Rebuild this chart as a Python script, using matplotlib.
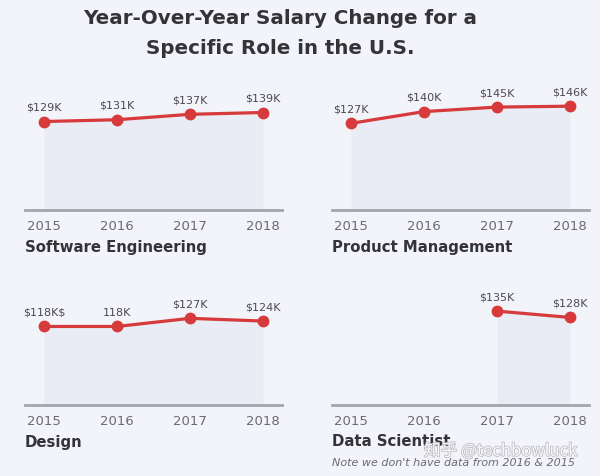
import matplotlib.pyplot as plt
import matplotlib.patheffects as pe

years = [2015, 2016, 2017, 2018]

roles = ["Software Engineering", "Product Management", "Design", "Data Scientist"]
salaries = [
    [129, 131, 137, 139],
    [127, 140, 145, 146],
    [118, 118, 127, 124],
    [None, None, 135, 128],
]
value_labels = [
    ["$129K", "$131K", "$137K", "$139K"],
    ["$127K", "$140K", "$145K", "$146K"],
    ["$118K$", "118K", "$127K", "$124K"],
    [None, None, "$135K", "$128K"],
]

bg = "#f3f4fa"
red = "#d63a3a"
fill_col = "#e9ebf5"
text_col = "#333338"

W, H = 600, 476
fig = plt.figure(figsize=(W / 100, H / 100), dpi=100, facecolor=bg)
plt.rcParams["font.family"] = ["DejaVu Sans"]

fig.text(0.467, 1 - 18 / H, "Year-Over-Year Salary Change for a", ha="center", va="center",
         fontsize=14.3, fontweight="bold", color=text_col)
fig.text(0.467, 1 - 48 / H, "Specific Role in the U.S.", ha="center", va="center",
         fontsize=14.3, fontweight="bold", color=text_col)

# axes boxes in pixels: left, baseline y
boxes = [(25, 210), (332, 210), (25, 405), (332, 405)]
ax_w, ax_h = 257, 130

for i, (px, py) in enumerate(boxes):
    ax = fig.add_axes([px / W, (H - py) / H, ax_w / W, ax_h / H])
    ax.set_facecolor("none")
    ax.set_xlim(2014.74, 2018.26)
    ax.set_ylim(31, 175)
    ax.set_yticks([])
    for s in ["top", "right", "left"]:
        ax.spines[s].set_visible(False)
    ax.spines["bottom"].set_color("#a4a4ac")
    ax.spines["bottom"].set_linewidth(2)
    ax.set_xticks(years)
    ax.set_xticklabels([str(y) for y in years])
    ax.tick_params(axis="x", length=0, pad=7, labelsize=9.5, labelcolor="#6a6a70")

    xs = [y for y, v in zip(years, salaries[i]) if v is not None]
    vs = [v for v in salaries[i] if v is not None]
    ax.fill_between(xs, vs, 31, color=fill_col, lw=0)
    ax.plot(xs, vs, color=red, lw=2.3, marker="o", markersize=7.5, solid_capstyle="round")
    for y, v, lab in zip(years, salaries[i], value_labels[i]):
        if v is not None:
            ax.annotate(lab, (y, v), xytext=(0, 10), textcoords="offset points",
                        ha="center", va="center", fontsize=8, color="#4a4a50",
                        parse_math=False)

    fig.text(px / W, 1 - (py + 37) / H, roles[i], ha="left", va="center",
             fontsize=10.7, fontweight="bold", color=text_col)

fig.text(332 / W, 1 - 463 / H, "Note we don't have data from 2016 & 2015", ha="left", va="center",
         fontsize=8, style="italic", color="#6a6a70")

# watermark
fig.text(424 / W, 1 - 451 / H, "知乎 @techbowluck", ha="left", va="center", fontsize=12,
         color="white", alpha=0.9, family=["Noto Sans CJK SC", "DejaVu Sans"],
         path_effects=[pe.withStroke(linewidth=1.2, foreground="#b8b8c0")])

fig.savefig("out.png", dpi=100, facecolor=bg)
